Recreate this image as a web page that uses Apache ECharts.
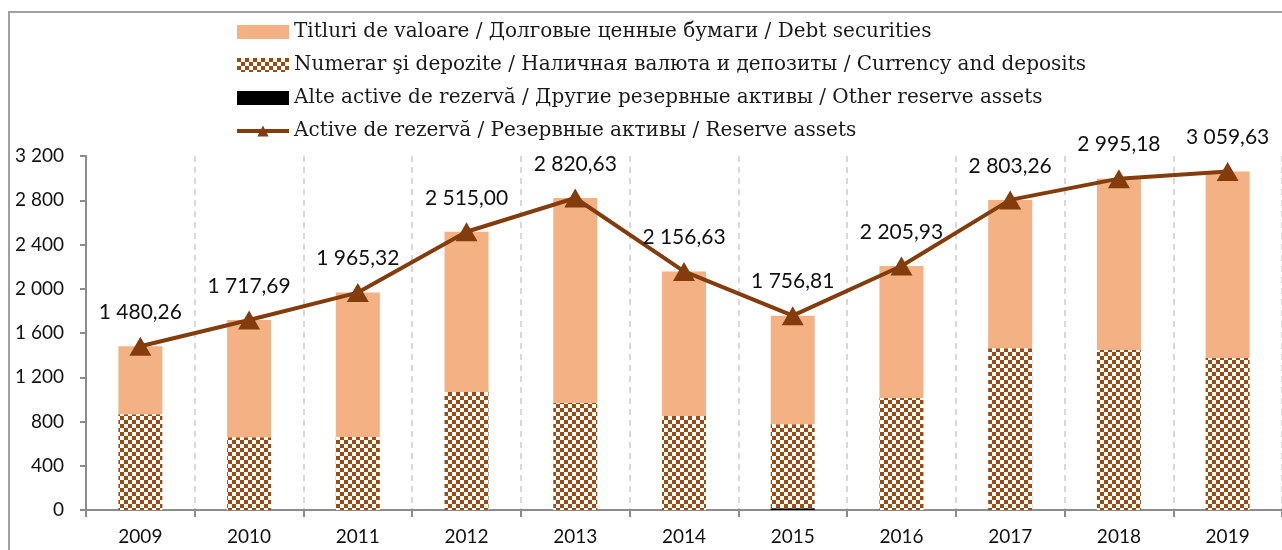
<!DOCTYPE html>
<html>
<head>
<meta charset="utf-8">
<script src="https://cdn.jsdelivr.net/npm/echarts@6/dist/echarts.min.js"></script>
<style>
  html, body { margin: 0; padding: 0; background: #fff; }
  #frame { position: absolute; left: 8px; top: 11px; width: 1280px; height: 545px;
           border-left: 2px solid #a0a0a0; border-top: 2px solid #a0a0a0; }
  #chart { position: absolute; left: 0; top: 0; width: 1282px; height: 550px; }
</style>
</head>
<body>
<div id="frame"></div>
<div id="chart"></div>
<script>
// Данные
const years = ['2009', '2010', '2011', '2012', '2013', '2014', '2015', '2016', '2017', '2018', '2019'];
const reserveTotal = [1480.26, 1717.69, 1965.32, 2515.00, 2820.63, 2156.63, 1756.81, 2205.93, 2803.26, 2995.18, 3059.63];
const currencyDeposits = [866, 658, 660, 1066, 968, 850, 760, 1012, 1462, 1446, 1374];
const otherAssets = [0, 0, 0, 0, 0, 0, 16, 0, 0, 0, 0];
const debtSecurities = reserveTotal.map((t, i) => +(t - currencyDeposits[i] - otherAssets[i]).toFixed(2));

const names = [
    'Titluri de valoare / Долговые ценные бумаги / Debt securities',
    'Numerar şi depozite / Наличная валюта и депозиты / Currency and deposits',
    'Alte active de rezervă / Другие резервные активы / Other reserve assets',
    'Active de rezervă / Резервные активы / Reserve assets'
];

// Шахматный узор для депозитов
function checker() {
    const c = document.createElement('canvas');
    c.width = 8; c.height = 8;
    const ctx = c.getContext('2d');
    ctx.fillStyle = '#ffffff';
    ctx.fillRect(0, 0, 8, 8);
    ctx.fillStyle = '#9e4a0e';
    ctx.fillRect(0, 0, 4, 4);
    ctx.fillRect(4, 4, 4, 4);
    return c;
}

const fmt = v => {
    const parts = v.toFixed(2).split('.');
    return parts[0].replace(/\B(?=(\d{3})+(?!\d))/g, ' ') + ',' + parts[1];
};

const chart = echarts.init(document.getElementById('chart'));
chart.setOption({
    animation: false,
    textStyle: { fontFamily: 'Lato' },
    legend: {
        orient: 'vertical',
        left: 235,
        top: 22,
        padding: 0,
        itemWidth: 52,
        itemHeight: 14,
        itemGap: 13,
        data: [
            { name: names[0], icon: 'rect' },
            { name: names[1], icon: 'rect' },
            { name: names[2], icon: 'rect' },
            { name: names[3], lineStyle: { width: 4 } }
        ],
        textStyle: { fontFamily: 'DejaVu Serif', fontSize: 20, color: '#1a1a1a' }
    },
    grid: { left: 86, top: 156, bottom: 40, right: -3 },
    xAxis: {
        type: 'category',
        data: years,
        axisLine: { lineStyle: { color: '#8c8c8c', width: 2 } },
        axisTick: { show: true, length: 7, lineStyle: { color: '#8c8c8c', width: 2 } },
        axisLabel: { color: '#111', fontSize: 19, margin: 17 },
        splitLine: { show: true, lineStyle: { color: '#d9d9d9', type: [6, 5], width: 2 } }
    },
    yAxis: {
        type: 'value',
        min: 0,
        max: 3200,
        interval: 400,
        axisLine: { show: true, lineStyle: { color: '#8c8c8c', width: 2 } },
        axisTick: { show: true, length: 6, lineStyle: { color: '#8c8c8c', width: 2 } },
        splitLine: { show: false },
        axisLabel: {
            color: '#111', fontSize: 19, margin: 22,
            formatter: v => String(v).replace(/\B(?=(\d{3})+(?!\d))/g, ' ')
        }
    },
    series: [
        {
            name: names[2], type: 'bar', stack: 'r', barWidth: 44,
            data: otherAssets, itemStyle: { color: '#000000' }
        },
        {
            name: names[1], type: 'bar', stack: 'r', barWidth: 44,
            data: currencyDeposits,
            itemStyle: { color: { image: checker(), repeat: 'repeat' } }
        },
        {
            name: names[0], type: 'bar', stack: 'r', barWidth: 44,
            data: debtSecurities, itemStyle: { color: '#f4b183' }
        },
        {
            name: names[3], type: 'line', data: reserveTotal,
            symbol: 'triangle', symbolSize: [22, 19],
            lineStyle: { color: '#843c0c', width: 4 },
            itemStyle: { color: '#843c0c' },
            label: {
                show: true, position: 'top', distance: 14,
                fontSize: 21, color: '#111',
                formatter: p => fmt(p.value)
            },
            z: 5
        }
    ]
});
</script>
</body>
</html>
